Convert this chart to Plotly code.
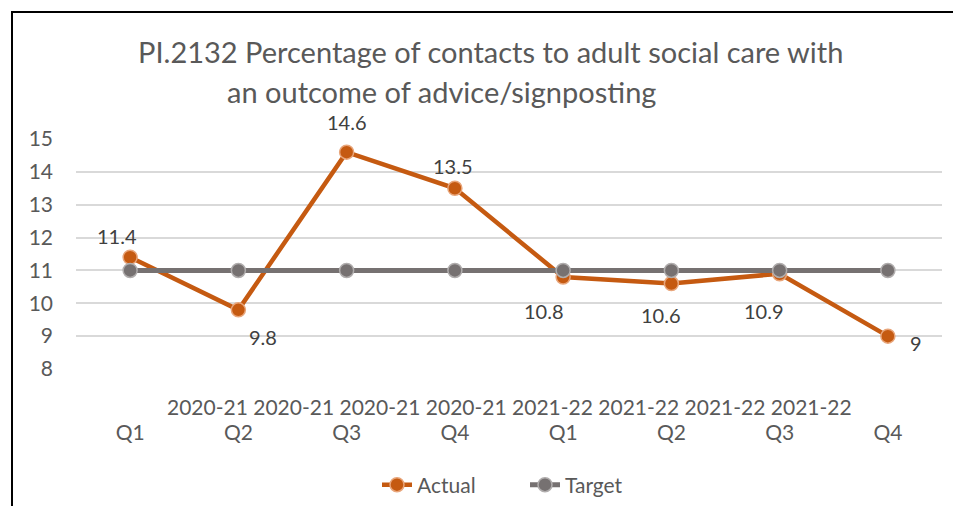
import plotly.graph_objects as go

quarters = ["Q1", "Q2", "Q3", "Q4", "Q1", "Q2", "Q3", "Q4"]
years = ["2020-21", "2020-21", "2020-21", "2020-21", "2021-22", "2021-22", "2021-22", "2021-22"]
categories = [f"{y} {q}" for y, q in zip(years, quarters)]
actual = [11.4, 9.8, 14.6, 13.5, 10.8, 10.6, 10.9, 9]
target = [11, 11, 11, 11, 11, 11, 11, 11]
y_ticks = [8, 9, 10, 11, 12, 13, 14, 15]

ORANGE = "#C55A11"
GREY = "#767171"
TEXT = "#595959"
FONT = "Lato"

# page body has an 8px margin; plot area in window pixels: x 76..942, y 139..369
PX0, PX1, PY0, PY1 = 76, 942, 139, 369
PW, PH = PX1 - PX0, PY1 - PY0


def px(x):
    return (x - PX0) / PW


def py(y):
    return (PY1 - y) / PH


# label offsets (pixels) for actual data labels
label_offsets = [(-13, 21), (25, -27), (0, 30), (-2, 22), (-19, -34), (-10, -31), (-16, -37), (28, -7)]

fig = go.Figure()
fig.add_trace(go.Scatter(
    x=categories, y=actual, name="Actual", mode="lines+markers",
    line=dict(color=ORANGE, width=4.5),
    marker=dict(symbol="circle", size=14, color=ORANGE, line=dict(color="#E8A57A", width=1.5)),
))
fig.add_trace(go.Scatter(
    x=categories, y=target, name="Target", mode="lines+markers",
    line=dict(color=GREY, width=5),
    marker=dict(symbol="circle", size=14, color=GREY, line=dict(color="#B0ADAD", width=1.5)),
))

annotations = []
for c, v, (dx, dy) in zip(categories, actual, label_offsets):
    annotations.append(dict(
        x=c, y=v, xref="x", yref="y", text=f"{v:g}", showarrow=False,
        xshift=dx, yshift=dy, font=dict(family=FONT, size=20, color="#404040"),
    ))

annotations.append(dict(
    x=px(490), y=py(52), xref="paper", yref="paper",
    text="PI.2132 Percentage of contacts to adult social care with", showarrow=False,
    font=dict(family=FONT, size=29, color=TEXT), xanchor="center", yanchor="middle",
))
annotations.append(dict(
    x=px(441), y=py(91), xref="paper", yref="paper",
    text="an outcome of advice/signposting", showarrow=False,
    font=dict(family=FONT, size=29, color=TEXT), xanchor="center", yanchor="middle",
))
annotations.append(dict(
    x=0.5, y=py(406), xref="paper", yref="paper",
    text=" ".join(years), showarrow=False,
    font=dict(family=FONT, size=21, color=TEXT), xanchor="center", yanchor="middle",
))

W, H = 953, 498
fig.update_layout(
    width=W, height=H,
    margin=dict(l=PX0 - 8, r=W + 8 - PX1, t=PY0 - 8, b=H + 8 - PY1, autoexpand=False),
    paper_bgcolor="white", plot_bgcolor="white",
    showlegend=True,
    legend=dict(orientation="h", x=px(377), xanchor="left", y=py(485), yanchor="middle",
                font=dict(family=FONT, size=21, color=TEXT),
                entrywidth=103, entrywidthmode="pixels"),
    annotations=annotations,
    shapes=[dict(type="rect", xref="paper", yref="paper",
                 x0=px(12), x1=1.2, y0=-1.5, y1=py(12),
                 line=dict(color="black", width=2), fillcolor="rgba(0,0,0,0)", layer="above")],
)
fig.update_xaxes(
    type="category", tickmode="array", tickvals=categories, ticktext=quarters,
    range=[-0.5, 7.5], showgrid=False, showline=False, ticks="", automargin=False,
    tickfont=dict(family=FONT, size=21, color=TEXT), ticklabelstandoff=49,
)
fig.update_yaxes(
    range=[8, 15], tickvals=y_ticks, showgrid=True, gridcolor="#D9D9D9", gridwidth=1.5,
    zeroline=False, showline=False, ticks="", automargin=False,
    tickfont=dict(family=FONT, size=21, color=TEXT), ticklabelstandoff=22,
)
fig.write_html("out.html")
